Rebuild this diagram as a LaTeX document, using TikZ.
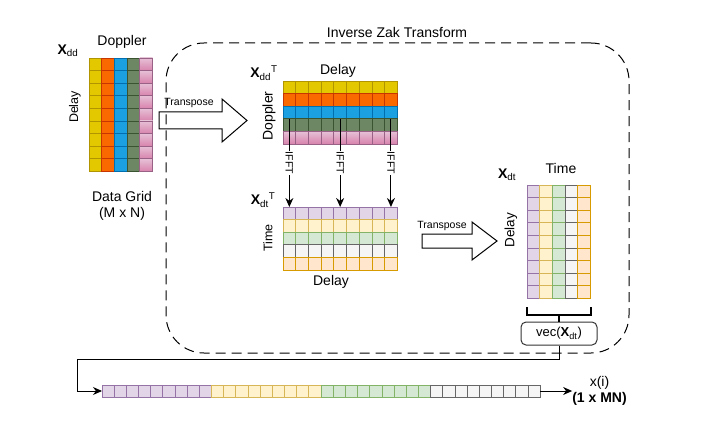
\documentclass[tikz,border=0pt]{standalone}
\usepackage{fontspec}
\setmainfont{Liberation Sans}
\usetikzlibrary{arrows.meta, positioning}

\definecolor{yelF}{HTML}{E3C800}\definecolor{yelD}{HTML}{B09500}
\definecolor{oraF}{HTML}{FA6800}\definecolor{oraD}{HTML}{C73500}
\definecolor{bluF}{HTML}{1BA1E2}\definecolor{bluD}{HTML}{006EAF}
\definecolor{oliF}{HTML}{6D8764}\definecolor{oliD}{HTML}{3A5431}
\definecolor{pnkT}{HTML}{E6C0D6}\definecolor{pnkB}{HTML}{D883AC}\definecolor{pnkD}{HTML}{996185}
\definecolor{purF}{HTML}{E1D5E7}\definecolor{purD}{HTML}{9673A6}
\definecolor{lyeF}{HTML}{FFF2CC}\definecolor{lyeD}{HTML}{D6B656}
\definecolor{grnF}{HTML}{D5E8D4}\definecolor{grnD}{HTML}{82B366}
\definecolor{gryF}{HTML}{F5F5F5}\definecolor{gryD}{HTML}{666666}
\definecolor{lorF}{HTML}{FFE6CC}\definecolor{lorD}{HTML}{D79B00}

\begin{document}
\begin{tikzpicture}[
    x=1pt, y=-1pt,
    cell/.style={draw, minimum width=12.7pt, minimum height=12.6pt, inner sep=0pt, outer sep=0pt, line width=0.8pt},
    cYel/.style={fill=yelF, draw=yelD},
    cOra/.style={fill=oraF, draw=oraD},
    cBlu/.style={fill=bluF, draw=bluD},
    cOli/.style={fill=oliF, draw=oliD},
    cPnk/.style={top color=pnkT, bottom color=pnkB, draw=pnkD},
    cPur/.style={fill=purF, draw=purD},
    cLye/.style={fill=lyeF, draw=lyeD},
    cGrn/.style={fill=grnF, draw=grnD},
    cGry/.style={fill=gryF, draw=gryD},
    cLor/.style={fill=lorF, draw=lorD},
    lbl/.style={font=\fontsize{14}{16}\selectfont, inner sep=0pt},
    vlbl/.style={inner sep=0pt, rotate=90},
    mname/.style={font=\fontsize{14}{16}\selectfont, inner sep=0pt},
    small/.style={font=\fontsize{10.5}{12}\selectfont, inner sep=1pt},
    arrow/.style={-{Stealth[length=9pt, width=8pt]}, line width=1pt},
    bigarrow/.style={draw, line width=1pt, line join=miter},
    zak/.style={draw, dash pattern=on 10pt off 6pt, rounded corners=38pt, line width=1pt, minimum width=463pt, minimum height=310pt},
    brk/.style={line width=2pt}
]
\useasboundingbox (0,0) rectangle (722,422);

% data grid (delay x doppler)
\foreach \s [count=\c] in {cYel,cOra,cBlu,cOli,cPnk}
  \foreach \r in {1,...,9}
    \node[cell,\s] (dd-\c-\r) at (89+\c*12.7-6.35, 58+\r*12.6-6.3) {};
\node[mname] (ddname) at (68,51) {\textbf{X}\textsubscript{dd}};
\node[lbl] at (122,42) {Doppler};
\node[vlbl, font=\fontsize{12.5}{14}\selectfont] at (75,107) {Delay};
\node[lbl, align=center] (grid) at (122,206) {Data Grid\\(M x N)};

% inverse zak transform
\node[zak] (zak) at (397.5,198) {};
\node[lbl] at (397,32) {Inverse Zak Transform};

\draw[bigarrow] (159,112) -- (222,112) -- (222,99) -- (247,120.5) -- (222,142) -- (222,129) -- (159,129) -- cycle;
\node[small] at (189,103) {Transpose};

% transposed grid (doppler x delay)
\foreach \s [count=\r] in {cYel,cOra,cBlu,cOli,cPnk}
  \foreach \c in {1,...,9}
    \node[cell,\s] (tdd-\c-\r) at (283+\c*12.7-6.35, 81+\r*12.6-6.3) {};
\node[mname] at (264,73) {\textbf{X}\textsubscript{dd}\textsuperscript{T}};
\node[lbl] at (338,71) {Delay};
\node[vlbl, font=\fontsize{14}{16}\selectfont] at (269,116) {Doppler};

% time x delay grid
\foreach \s [count=\r] in {cPur,cLye,cGrn,cGry,cLor}
  \foreach \c in {1,...,9}
    \node[cell,\s] (tdt-\c-\r) at (283+\c*12.7-6.35, 207+\r*12.6-6.3) {};
\node[mname] at (263,200) {\textbf{X}\textsubscript{dt}\textsuperscript{T}};
\node[vlbl, font=\fontsize{12.5}{14}\selectfont] at (268,238) {Time};
\node[lbl] at (331,282) {Delay};

\foreach \c in {1,5,9}
  \draw[arrow] (tdd-\c-3.south) -- node[small, fill=white, rotate=-90] {IFFT} (tdt-\c-1.north);

\draw[bigarrow] (422,234) -- (472,234) -- (472,222) -- (497,241) -- (472,260) -- (472,248) -- (422,248) -- cycle;
\node[small] at (442,226) {Transpose};

% delay x time grid
\foreach \s [count=\c] in {cPur,cLye,cGrn,cGry,cLor}
  \foreach \r in {1,...,9}
    \node[cell,\s] (dt-\c-\r) at (527+\c*12.7-6.35, 185+\r*12.6-6.3) {};
\node[mname] at (507,175) {\textbf{X}\textsubscript{dt}};
\node[lbl] at (561,168) {Time};
\node[vlbl, font=\fontsize{13.5}{15}\selectfont] at (511,230) {Delay};

\node[draw=black!80, rounded corners=5pt, line width=1pt, minimum width=76pt, minimum height=23pt, font=\fontsize{13}{15}\selectfont] (vec) at (559,333.5) {vec(\textbf{X}\textsubscript{dt})};
\draw[brk] ([yshift=-9pt]dt-1-9.south west) -- ([yshift=-16.5pt]dt-1-9.south west) -- ([yshift=-16.5pt]dt-5-9.south east) -- ([yshift=-9pt]dt-5-9.south east);
\draw[brk] (vec.north) -- ([yshift=7pt]vec.north);

% vectorised output
\foreach \s [count=\g from 0] in {cPur,cLye,cGrn,cGry}
  \foreach \k in {1,...,9} {
    \pgfmathtruncatemacro\n{\g*9+\k}
    \node[cell,\s, minimum width=12.17pt, minimum height=12pt] (x-\n) at (102+\n*12.17-6.085, 391) {};
  }
\node[lbl, align=center, right=32pt of x-36.east] (xi) {x(i)\\\textbf{(1 x MN)}};

\coordinate (turn) at (77,359);
\draw[arrow] (vec.south) |- (turn) |- (x-1.west);
\draw[arrow] (x-36.east) -- (x-36.east -| xi.west);
\end{tikzpicture}
\end{document}
